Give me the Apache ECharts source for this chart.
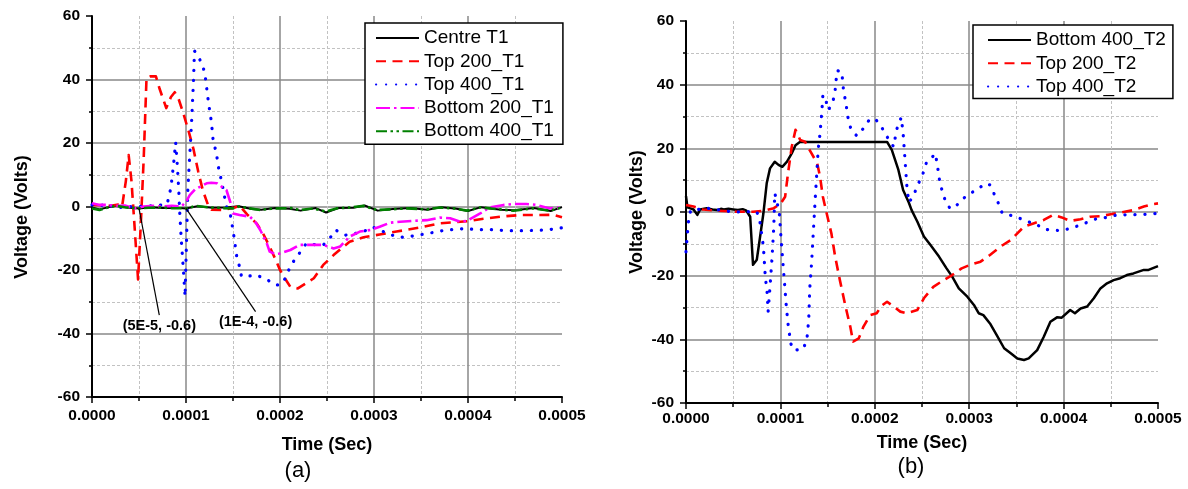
<!DOCTYPE html>
<html>
<head>
<meta charset="utf-8">
<script src="https://cdn.jsdelivr.net/npm/echarts@6/dist/echarts.min.js"></script>
<style>
  html, body { margin: 0; padding: 0; background: #fff; }
  #chart { width: 1188px; height: 489px; }
</style>
</head>
<body>
<div id="chart"></div>
<script>
// ---- Panel (a): transient voltages, T1 set (time in microseconds, voltage in volts) ----
const centreT1Time = [0,8,18,26,40,50,62,75,90,100,112,128,142,156,170,180,195,210,222,238,249,262,278,290,304,320,338,357,372,388,400,414,435,450,470,488,500];
const centreT1Volt = [-0.3,-0.9,-0.2,0.3,-0.4,-0.6,-0.2,-0.5,-0.4,-0.6,0.1,-0.4,-0.3,0.1,-0.8,-1.0,-0.5,-0.7,-1.3,-0.5,-1.9,-0.5,-0.4,0.3,-1.3,-0.8,-0.5,-1.0,-0.2,-0.7,-1.4,-0.2,-1.0,-1.2,-0.5,-1.4,-0.2];

const top200T1Time = [0,10,20,28,32,36,39,42,45,49,52,55,58,62,68,72,79,84,88,92,97,103,108,113,118,124,127,140,152,157,165,175,182,189,195,200,206,211,219,236,246,257,274,289,306,324,349,370,392,400,413,434,455,477,490,500];
const top200T1Volt = [0.5,0.4,0.2,0.6,0,8,16.2,8,-5,-23,-5,15,40.5,41,41,37,31,34.5,36,34,29.5,23.5,18,11,5,0,-1,-1.1,-0.3,0.3,-2.5,-5.3,-8.5,-12.7,-16.5,-20,-23,-25.3,-25.8,-22.6,-18.4,-15.3,-11.1,-9.7,-8.8,-7.9,-6.6,-5.3,-4.8,-4.6,-4,-3.2,-2.7,-2.7,-2.6,-3.4];

const top400T1Time = [0,5,10,15,20,30,40,50,60,70,80,84,87,89,91,92.5,93,95,97,99,102,106,108,109,112,117,120,124,127,129,132,135,138,141,143,147,150,154,157,159,165,175,186,195,200,206,210,216,222,228,239,246,253,259,270,280,289,298,306,317,326,337,347,358,367,377,388,399,409,420,431,441,462,484,500];
const top400T1Volt = [0.5,0.2,0.3,1,0.2,-0.3,0,0,0.2,0.3,0.8,6,14,20.2,12,4,0,-10.6,-19,-28.4,5.7,27,39.8,49,47.7,45,42,32.5,26.7,20.4,17.3,11.5,7.8,3.1,0,-2.2,-7.4,-15.8,-19,-22,-22,-21.6,-23,-24.7,-24.7,-22.5,-19.5,-16.5,-14.2,-11.6,-12.1,-12.1,-10,-7.4,-9,-8.5,-7.9,-6.4,-7.4,-8.8,-9.7,-9.5,-9,-8.5,-7.9,-7.4,-7.2,-6.9,-7.4,-7.2,-7.4,-7.6,-7.6,-7.4,-6.7];

const bottom200T1Time = [0,8,15,25,35,45,55,65,75,85,95,100,104,110,115,122,127,133,138,143,147,150,157,168,174,179,186,189,195,200,211,221,232,246,257,264,274,285,296,306,317,328,342,356,370,381,392,399,413,423,438,448,462,473,487,500];
const bottom200T1Volt = [1,0.5,0.5,0.2,0.3,-0.6,0,0.2,0,0.2,0,1.5,3.6,5.5,6.2,7.3,7.5,7.3,6.2,5.2,1.5,-2.2,-2.7,-3.2,-5,-7.4,-11.6,-14.2,-15,-14.8,-13.7,-12.1,-12.1,-12.1,-13.2,-12.6,-9.5,-7.9,-7.4,-6.4,-5.1,-4.8,-4.5,-4.3,-3.5,-3.7,-4.8,-4.5,-2.2,-0.3,0.5,0.8,0.8,0.5,-0.6,-0.3];

const bottom400T1Time = [0,8,16,26,36,50,60,72,85,100,111,125,140,150,157,168,179,190,200,212,221,235,249,260,275,289,303,317,335,356,370,385,399,413,434,448,469,487,500];
const bottom400T1Volt = [-0.6,-1.1,-0.4,0.2,-0.3,-0.6,-0.4,-0.3,-0.5,-0.6,0.2,-0.3,-0.5,-0.6,0,-0.6,-1.1,-0.7,-0.6,-0.5,-1.1,-0.6,-1.6,-0.6,-0.3,0.2,-1.1,-0.9,-0.6,-0.9,-0.3,-0.6,-1.3,-0.3,-0.9,-1.3,-0.6,-1.3,-0.3];

// Annotated points on the near-zero traces
const calloutPointsUs = [[50, -0.6], [100, -0.6]];
const calloutTexts = ['(5E-5, -0.6)', '(1E-4, -0.6)'];

// ---- Panel (b): T2 set ----
const bottom400T2Time = [0,1.5,4,8,12,15,22,28,33,37,40,45,50,55,60,64,68,71,75,78,82,85.5,89,94,98,102,107,112,116,121,130,213,218,225,230,236,239,245,252,259,268,276,282,289,298,305,310,315,322,329,337,344,351,358,363,372,379,386,393,398,407,412,418,425,432,439,446,453,460,467,474,485,490,500];
const bottom400T2Volt = [5,1.5,1.2,0.8,-0.9,0.8,1.2,0.8,0.6,1.0,0.8,1.0,0.8,0.6,0.9,0.4,-1.5,-16.6,-15,-8.8,-0.4,9,13.7,15.8,14.8,14.2,15.8,18.4,21,22.1,22,22,19.5,13.2,6.9,3,0.6,-3,-7.7,-10.4,-14,-17.7,-20.3,-24,-26.6,-29.2,-31.8,-32.4,-35,-38.6,-42.8,-44.4,-46,-46.5,-46,-43.4,-39.2,-34.5,-33.1,-33.2,-30.8,-31.8,-30.3,-29.7,-27.1,-24,-22.4,-21.4,-20.8,-19.8,-19.3,-18.2,-18.2,-17];

const top200T2Time = [0,8,18,33,54,71,82,93,100,105,108,112,116,121,126,133,139,142,145,149,154,158,163,169,174,177,183,188,195,202,207,213,220,227,234,245,252,262,273,282,292,301,312,322,333,344,351,358,368,379,389,398,407,418,428,439,450,460,474,485,495,500];
const top200T2Volt = [2.2,1.7,0.8,0.4,0.1,0.1,0.4,1.2,2.5,4.8,12,20.5,25.8,22.6,22.1,18.4,15.3,11.1,4.8,-0.4,-6.7,-14,-21.4,-29.7,-36,-40.7,-39.7,-36,-32.4,-31.8,-29.5,-28.2,-29.7,-31.3,-31.8,-30.8,-27.1,-23.5,-21.4,-19.8,-17.7,-16.6,-15.6,-13.5,-10.9,-8.8,-6.7,-4.6,-3.6,-2.5,-0.9,-1.7,-2.8,-2.3,-1.5,-1.3,-0.7,-0.2,0.6,1.7,2.5,2.7];

const top400T2Time = [0,1,2,3,5,13,22,36,50,64,75,78,82,84,86,87,89,91,93,94,96,99,101,103,106,108,111,114,124,128,130,131,133,135,137,138.5,140,142,144,145,148,151,153,156,158,160,165,167,169,172,175,181,188,194,200,206,211,216,220,223,228,230,232,234,236,241,245,250,255,260,264,266,269,275,280,287,294,301,308,317,322,327,331,335,342,350,361,370,379,389,398,407,418,427,436,446,457,468,478,489,500];
const top400T2Volt = [-12.5,-8.8,-5.1,-2,0.6,0.8,1.2,0.6,0,0.1,0.1,-2.5,-10.9,-20.3,-25.5,-31.3,-23.5,-15,-4.6,5.9,3.8,-0.9,-9.8,-17.2,-28.7,-35,-41.3,-43.4,-43.1,-40.2,-33.9,-24.5,-16.1,-5.7,4.8,12.1,19.5,24.7,32,36.8,35.2,32,32,35.2,38.3,44.4,44.1,37.8,34.9,28.9,25.8,23.9,26.3,28.9,29.4,27.3,24.7,22.1,20.5,25.8,29.7,24.7,16.3,8,3,5,8.3,11.1,15.8,16.9,18.4,15.3,9,3.2,1,2.2,4.3,5.9,6.9,9,8.5,5.3,2.7,-0.4,-0.9,-1.5,-3,-3.6,-5.4,-5.7,-5.9,-5.1,-4.1,-3,-2,-1.7,-0.9,-0.9,-0.8,-0.7,-0.4];

// Axis ranges
const timeMaxSec = 0.0005;
const timeStepSec = 0.0001;
const voltMin = -60, voltMax = 60, voltStep = 20;

const FONT = "'Liberation Sans', Arial, Helvetica, sans-serif";

// microseconds -> [seconds, volts] pairs
const toPairs = (us, v) => us.map((t, i) => [t * 1e-6, v[i]]);

const chart = echarts.init(document.getElementById('chart'), null, { renderer: 'canvas' });

function xAxisFor(idx, nameGap, labelMargin) {
  return {
    type: 'value', gridIndex: idx, min: 0, max: timeMaxSec, interval: timeStepSec,
    name: 'Time (Sec)', nameLocation: 'middle', nameGap: nameGap,
    nameTextStyle: { color: '#000', fontFamily: FONT, fontWeight: 'bold', fontSize: 18 },
    axisLine: { show: true, onZero: false, lineStyle: { color: '#000', width: 2 } },
    axisTick: { show: true, inside: false, length: 6, lineStyle: { color: '#000', width: 1.5 } },
    minorTick: { show: true, splitNumber: 2, length: 4, lineStyle: { color: '#000', width: 1.5 } },
    axisLabel: { color: '#000', fontFamily: FONT, fontWeight: 'bold', fontSize: 15.5, margin: labelMargin,
                 formatter: v => v.toFixed(4) },
    splitLine: { show: true, showMinLine: false, showMaxLine: false, lineStyle: { color: '#888', width: 1.5 } },
    minorSplitLine: { show: true, lineStyle: { color: '#c2c2c2', width: 1, type: [3, 2] } }
  };
}

function yAxisFor(idx) {
  return {
    type: 'value', gridIndex: idx, min: voltMin, max: voltMax, interval: voltStep,
    axisLine: { show: true, onZero: false, lineStyle: { color: '#000', width: 2 } },
    axisTick: { show: true, inside: false, length: 6, lineStyle: { color: '#000', width: 1.5 } },
    minorTick: { show: true, splitNumber: 2, length: 3, lineStyle: { color: '#000', width: 1.5 } },
    axisLabel: { color: '#000', fontFamily: FONT, fontWeight: 'bold', fontSize: 15.5, margin: 12 },
    splitLine: { show: true, showMinLine: false, showMaxLine: false, lineStyle: { color: '#888', width: 1.5 } },
    minorSplitLine: { show: true, lineStyle: { color: '#c2c2c2', width: 1, type: [3, 2] } }
  };
}

function trace(name, idx, us, v, color, width, dash, cap) {
  return {
    name, type: 'line', xAxisIndex: idx, yAxisIndex: idx,
    data: toPairs(us, v), symbol: 'none', showSymbol: false, smooth: false,
    animation: false, clip: true,
    lineStyle: { color, width, type: dash, cap: cap || 'butt', join: 'round' },
    itemStyle: { color }
  };
}

const DASH = [10, 6.5];
const DOT = [0.2, 9.8];
const DASH_DOT = [14, 4, 2.5, 4];
const DASH_DOT_DOT = [11, 3.5, 2.5, 3.5, 2.5, 3.5];

const seriesA = [
  trace('Centre T1', 0, centreT1Time, centreT1Volt, '#000000', 2, 'solid'),
  trace('Top 200_T1', 0, top200T1Time, top200T1Volt, '#ff0000', 2.6, DASH),
  trace('Top 400_T1', 0, top400T1Time, top400T1Volt, '#0000ff', 3.2, DOT, 'round'),
  trace('Bottom 200_T1', 0, bottom200T1Time, bottom200T1Volt, '#ff00ff', 2.6, DASH_DOT),
  trace('Bottom 400_T1', 0, bottom400T1Time, bottom400T1Volt, '#008000', 2.6, DASH_DOT_DOT)
];

const seriesB = [
  trace('Bottom 400_T2', 1, bottom400T2Time, bottom400T2Volt, '#000000', 2.5, 'solid'),
  trace('Top 200_T2', 1, top200T2Time, top200T2Volt, '#ff0000', 2.6, DASH),
  trace('Top 400_T2', 1, top400T2Time, top400T2Volt, '#0000ff', 3.2, DOT, 'round')
];

// Leader lines from the annotated points down to their text
const calloutLabelAtUs = [[71.6, -34.2], [174, -33.1]];
const calloutSeries = [];
calloutPointsUs.forEach((p, i) => {
  const end = calloutLabelAtUs[i];
  calloutSeries.push({
    type: 'line', xAxisIndex: 0, yAxisIndex: 0, silent: true, animation: false,
    symbol: 'none', z: 5,
    data: [[p[0] * 1e-6, p[1]], [end[0] * 1e-6, end[1]]],
    lineStyle: { color: '#000', width: 1.2, type: 'solid' }
  });
  calloutSeries.push({
    type: 'scatter', xAxisIndex: 0, yAxisIndex: 0, silent: true, animation: false,
    symbol: 'circle', symbolSize: 0, z: 5,
    itemStyle: { color: '#000', opacity: 1 },
    data: [[end[0] * 1e-6, end[1]]],
    label: { show: true, position: 'bottom', distance: 3, formatter: calloutTexts[i], opacity: 1,
             color: '#000', fontFamily: FONT, fontWeight: 'bold', fontSize: 14.5 }
  });
});

function legendFor(names, left, top, padding) {
  return {
    data: names, orient: 'vertical', left, top, padding,
    backgroundColor: '#fff', borderColor: '#000', borderWidth: 1.5, borderRadius: 0,
    itemWidth: 43, itemHeight: 14, itemGap: 3.3, selectedMode: false,
    itemStyle: { opacity: 0 },
    textStyle: { color: '#000', fontFamily: FONT, fontSize: 19, lineHeight: 20 },
    z: 10
  };
}

const option = {
  backgroundColor: '#fff',
  animation: false,
  grid: [
    { left: 92, top: 16, width: 470, height: 381, containLabel: false },
    { left: 686, top: 21, width: 472, height: 382, containLabel: false }
  ],
  xAxis: [xAxisFor(0, 39, 11), xAxisFor(1, 31, 8)],
  yAxis: [yAxisFor(0), yAxisFor(1)],
  legend: [
    legendFor(['Centre T1', 'Top 200_T1', 'Top 400_T1', 'Bottom 200_T1', 'Bottom 400_T1'], 365, 23, [5, 9, 3, 10]),
    legendFor(['Bottom 400_T2', 'Top 200_T2', 'Top 400_T2'], 973, 25, [5, 7, 2, 14])
  ],
  graphic: [
    { type: 'text', x: 22.5, y: 217, rotation: Math.PI / 2, silent: true,
      style: { text: 'Voltage (Volts)', font: 'bold 18px ' + FONT, fill: '#000',
               align: 'center', verticalAlign: 'middle', textAlign: 'center', textVerticalAlign: 'middle' } },
    { type: 'text', x: 637, y: 212, rotation: Math.PI / 2, silent: true,
      style: { text: 'Voltage (Volts)', font: 'bold 18px ' + FONT, fill: '#000',
               align: 'center', verticalAlign: 'middle', textAlign: 'center', textVerticalAlign: 'middle' } },
    { type: 'text', x: 298, y: 471, silent: true,
      style: { text: '(a)', font: '22px ' + FONT, fill: '#000',
               align: 'center', verticalAlign: 'middle', textAlign: 'center', textVerticalAlign: 'middle' } },
    { type: 'text', x: 911, y: 467, silent: true,
      style: { text: '(b)', font: '22px ' + FONT, fill: '#000',
               align: 'center', verticalAlign: 'middle', textAlign: 'center', textVerticalAlign: 'middle' } }
  ],
  series: [...seriesA, ...seriesB, ...calloutSeries]
};

chart.setOption(option);
</script>
</body>
</html>
